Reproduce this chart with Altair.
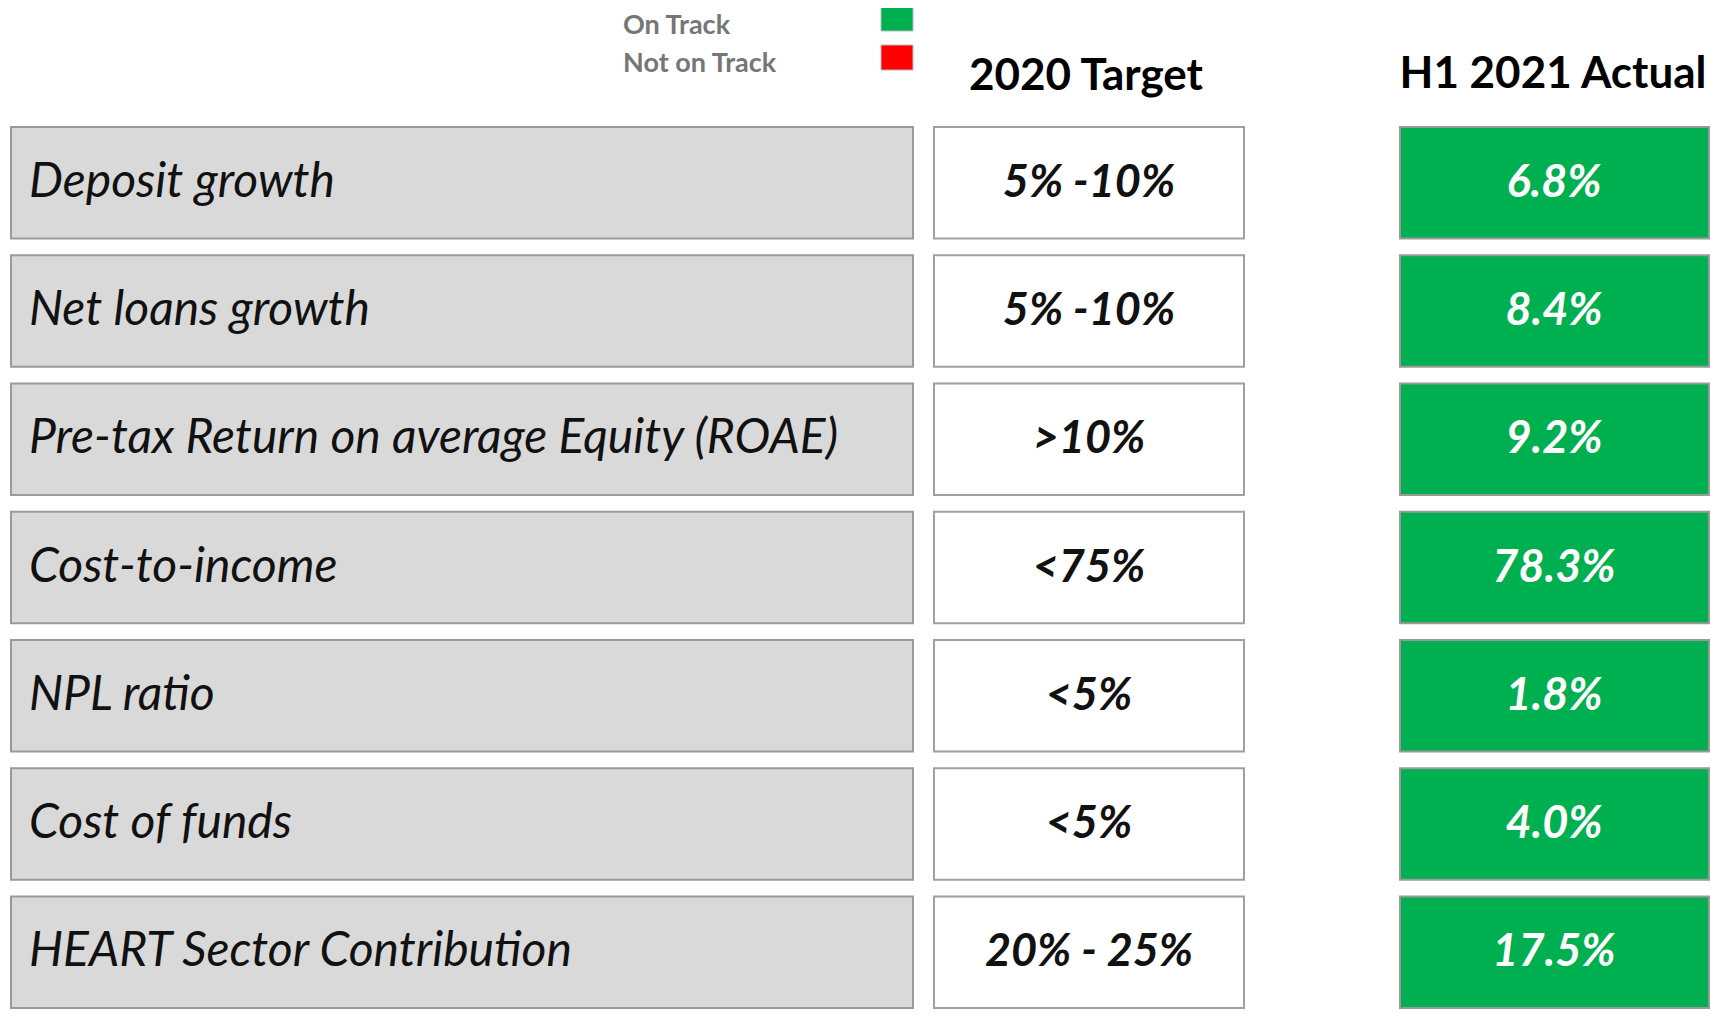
import altair as alt
import pandas as pd

# ---- data ----
metrics = [
    "Deposit growth",
    "Net loans growth",
    "Pre-tax Return on average Equity (ROAE)",
    "Cost-to-income",
    "NPL ratio",
    "Cost of funds",
    "HEART Sector Contribution",
]
targets = ["5% -10%", "5% -10%", ">10%", "<75%", "<5%", "<5%", "20% - 25%"]
actuals = ["6.8%", "8.4%", "9.2%", "78.3%", "1.8%", "4.0%", "17.5%"]
statuses = ["On Track"] * 7
legend_labels = ["On Track", "Not on Track"]
legend_colors = ["#00b050", "#ff0000"]
column_titles = ["2020 Target", "H1 2021 Actual"]

df = pd.DataFrame({"metric": metrics, "target": targets, "actual": actuals, "status": statuses})

# ---- layout ----
W, H = 1705, 1009
FONT = "Lato"
yscale = alt.Scale(domain=metrics, range=[119, 1000], paddingInner=0.13, paddingOuter=0)
Y = alt.Y("metric:N", scale=yscale, axis=None, sort=metrics)
color = alt.Color("status:N", scale=alt.Scale(domain=legend_labels, range=legend_colors), legend=None)

base = alt.Chart(df)

label_box = base.mark_rect(fill="#d9d9d9", stroke="#9a9a9a", strokeWidth=2).encode(
    x=alt.value(3), x2=alt.value(905), y=Y
)
label_text = base.mark_text(
    align="left", baseline="middle", font=FONT, fontSize=48, fontStyle="italic",
    fontWeight="normal", color="#111111"
).encode(x=alt.value(21), y=Y, text="metric:N")

target_box = base.mark_rect(fill="white", stroke="#a0a0a0", strokeWidth=2).encode(
    x=alt.value(926), x2=alt.value(1236), y=Y
)
target_text = base.mark_text(
    align="center", baseline="middle", font=FONT, fontSize=45, fontStyle="italic",
    fontWeight="bold", color="#111111"
).encode(x=alt.value(1081), y=Y, text="target:N")

actual_box = base.mark_rect(stroke="#9a9a9a", strokeWidth=2).encode(
    x=alt.value(1392), x2=alt.value(1701), y=Y, color=color
)
actual_text = base.mark_text(
    align="center", baseline="middle", font=FONT, fontSize=45, fontStyle="italic",
    fontWeight="bold", color="white"
).encode(x=alt.value(1546), y=Y, text="actual:N")

# header titles
hdr_df = pd.DataFrame({"title": column_titles})
hdr1 = alt.Chart(hdr_df.iloc[[0]]).mark_text(
    align="center", baseline="middle", font=FONT, fontSize=44, fontWeight="bold", color="black"
).encode(x=alt.value(1078), y=alt.value(69), text="title:N")
hdr2 = alt.Chart(hdr_df.iloc[[1]]).mark_text(
    align="center", baseline="middle", font=FONT, fontSize=44, fontWeight="bold", color="black"
).encode(x=alt.value(1545), y=alt.value(67), text="title:N")

# legend
leg_df = pd.DataFrame({"status": legend_labels})
leg_sq1 = alt.Chart(leg_df.iloc[[0]]).mark_rect(stroke="#bbbbbb", strokeWidth=1).encode(
    x=alt.value(873), x2=alt.value(905), y=alt.value(-2), y2=alt.value(23), color=color
)
leg_sq2 = alt.Chart(leg_df.iloc[[1]]).mark_rect(stroke="#bbbbbb", strokeWidth=1).encode(
    x=alt.value(873), x2=alt.value(905), y=alt.value(37), y2=alt.value(62), color=color
)
leg_t1 = alt.Chart(leg_df.iloc[[0]]).mark_text(
    align="left", baseline="middle", font=FONT, fontSize=27, fontWeight="bold", color="#767676"
).encode(x=alt.value(615), y=alt.value(18), text="status:N")
leg_t2 = alt.Chart(leg_df.iloc[[1]]).mark_text(
    align="left", baseline="middle", font=FONT, fontSize=27, fontWeight="bold", color="#767676"
).encode(x=alt.value(615), y=alt.value(56), text="status:N")

chart = alt.layer(
    label_box, label_text, target_box, target_text, actual_box, actual_text,
    hdr1, hdr2, leg_sq1, leg_sq2, leg_t1, leg_t2
).properties(
    width=W, height=H, padding=0, autosize=alt.AutoSizeParams(type="none"), background="white"
).configure_view(stroke=None)

chart.save("out.html", embed_options={"renderer": "svg", "actions": False})
